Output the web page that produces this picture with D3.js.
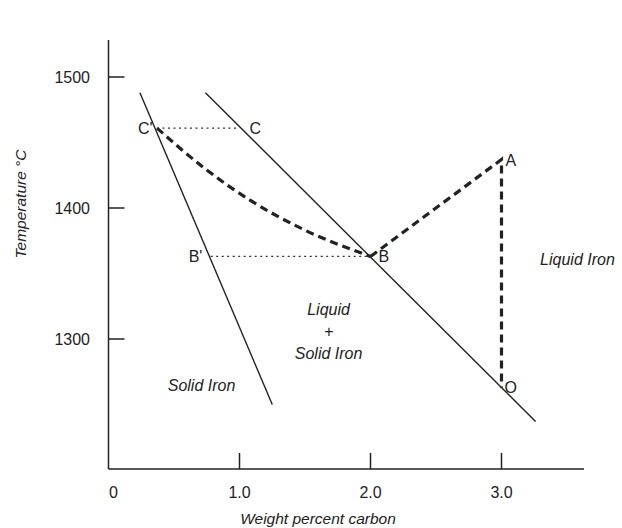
<!DOCTYPE html>
<html><head><meta charset="utf-8">
<script src="https://cdn.jsdelivr.net/npm/d3@7"></script>
<style>body{margin:0;background:#fff}text{font-family:"Liberation Sans",Arial,sans-serif;fill:#222}</style>
</head><body><svg id="c" width="622" height="528"></svg>
<script>
const xTicks = [0, 1.0, 2.0, 3.0];
const xTickLabels = ["0", "1.0", "2.0", "3.0"];
const yTicks = [1300, 1400, 1500];
const solidus = [[0.24, 1488], [1.25, 1250]];
const liquidus = [[0.74, 1488], [3.26, 1237]];
const curveCB = [[0.37, 1461], [0.75, 1429], [1.08, 1406], [1.46, 1385], [2.0, 1363]];
const pathBAO = [[2.0, 1363], [3.0, 1437], [3.0, 1263]];
const tieLines = [[[0.37, 1461], [1.0, 1461]], [[0.78, 1363], [2.0, 1363]]];
const pointLabels = [
  {t: "C'", x: 0.37, y: 1461, dx: -19},
  {t: "C", x: 1.0, y: 1461, dx: 10},
  {t: "B'", x: 0.78, y: 1363, dx: -22},
  {t: "B", x: 2.0, y: 1363, dx: 8},
  {t: "A", x: 3.0, y: 1437, dx: 4},
  {t: "O", x: 3.0, y: 1263, dx: 3}
];
const regionLabels = [
  {lines: ["Solid Iron"], x: 0.71, y: 1265},
  {lines: ["Liquid", "+", "Solid Iron"], x: 1.68, y: 1306},
  {lines: ["Liquid Iron"], x: 3.58, y: 1361}
];

const svg = d3.select("#c");
const x = d3.scaleLinear().domain([0, 3.75]).range([108.5, 599.75]);
const y = d3.scaleLinear().domain([1200, 1500]).range([470, 77]);

// axes
svg.append("line").attr("x1", x(0)).attr("x2", 584).attr("y1", 469).attr("y2", 469)
  .attr("stroke", "#222").attr("stroke-width", 1.5);
svg.append("line").attr("x1", x(0)).attr("x2", x(0)).attr("y1", 40).attr("y2", 469)
  .attr("stroke", "#222").attr("stroke-width", 1.5);

svg.selectAll(".xt").data(xTicks.slice(1)).join("line")
  .attr("x1", d => x(d)).attr("x2", d => x(d)).attr("y1", 469).attr("y2", 453)
  .attr("stroke", "#222").attr("stroke-width", 1.5);
svg.selectAll(".xl").data(xTicks).join("text")
  .attr("x", (d, i) => i === 0 ? x(d) + 5 : x(d)).attr("y", 498)
  .attr("text-anchor", "middle").attr("font-size", 16)
  .text((d, i) => xTickLabels[i]);

svg.selectAll(".yt").data(yTicks).join("line")
  .attr("x1", x(0)).attr("x2", x(0) + 16).attr("y1", d => y(d)).attr("y2", d => y(d))
  .attr("stroke", "#222").attr("stroke-width", 1.5);
svg.selectAll(".yl").data(yTicks).join("text")
  .attr("x", 90).attr("y", d => y(d) + 6)
  .attr("text-anchor", "end").attr("font-size", 16)
  .text(d => d);

svg.append("text").attr("x", 318).attr("y", 524).attr("text-anchor", "middle")
  .attr("font-size", 15.5).attr("font-style", "italic").text("Weight percent carbon");
svg.append("text").attr("transform", "translate(26,204) rotate(-90)").attr("text-anchor", "middle")
  .attr("font-size", 15.5).attr("font-style", "italic").text("Temperature °C");

const line = d3.line().x(d => x(d[0])).y(d => y(d[1]));

// solid lines
[solidus, liquidus].forEach(l => svg.append("path").attr("d", line(l))
  .attr("fill", "none").attr("stroke", "#222").attr("stroke-width", 1.4));

// dotted tie lines
tieLines.forEach(l => svg.append("path").attr("d", line(l))
  .attr("fill", "none").attr("stroke", "#333").attr("stroke-width", 1.2)
  .attr("stroke-dasharray", "2,3.5"));

// dashed curves
svg.append("path").attr("d", d3.line().x(d => x(d[0])).y(d => y(d[1])).curve(d3.curveMonotoneX)(curveCB))
  .attr("fill", "none").attr("stroke", "#222").attr("stroke-width", 3.2).attr("stroke-dasharray", "8,5");
svg.append("path").attr("d", line(pathBAO))
  .attr("fill", "none").attr("stroke", "#222").attr("stroke-width", 3.2).attr("stroke-dasharray", "8,5");

// point labels
svg.selectAll(".pl").data(pointLabels).join("text")
  .attr("x", d => x(d.x) + d.dx).attr("y", d => y(d.y) + 6)
  .attr("font-size", 16).text(d => d.t);

// region labels
regionLabels.forEach(r => {
  r.lines.forEach((t, i) => {
    svg.append("text").attr("x", x(r.x)).attr("y", y(r.y) + 6 + (i - (r.lines.length - 1) / 2) * 22)
      .attr("text-anchor", "middle").attr("font-size", 16).attr("font-style", "italic").text(t);
  });
});
</script></body></html>
